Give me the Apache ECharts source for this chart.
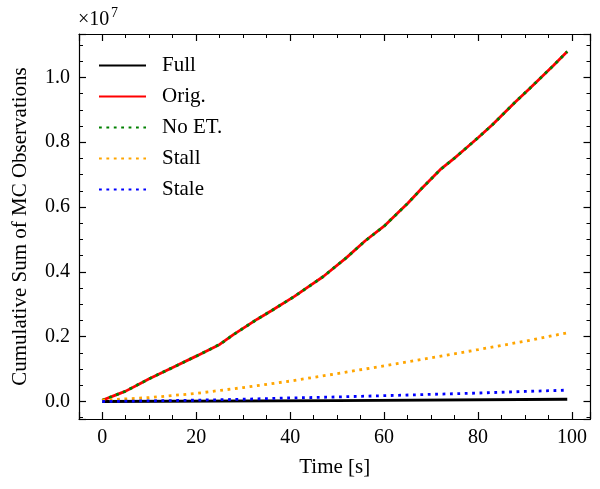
<!DOCTYPE html>
<html>
<head>
<meta charset="utf-8">
<script src="https://cdn.jsdelivr.net/npm/echarts@6/dist/echarts.min.js"></script>
<style>
  html, body { margin: 0; padding: 0; background: #fff; }
  #chart { width: 600px; height: 489px; }
</style>
</head>
<body>
<div id="chart"></div>
<script>
// values are in units of 1e7 observations (axis shows x10^7)
const origT = [0, 2, 5, 8, 10, 15, 20, 25, 28, 33, 36, 41, 44, 47, 52, 56, 60, 63, 65, 68, 72, 75, 77, 80, 83, 88, 91, 96, 99];
const origV = [0.004, 0.015, 0.032, 0.055, 0.07, 0.105, 0.14, 0.176, 0.207, 0.254, 0.28, 0.325, 0.355, 0.385, 0.444, 0.496, 0.541, 0.583, 0.611, 0.657, 0.716, 0.751, 0.776, 0.814, 0.853, 0.925, 0.966, 1.036, 1.08];
const noEtV = [0.004, 0.015, 0.032, 0.055, 0.07, 0.105, 0.14, 0.176, 0.207, 0.254, 0.28, 0.325, 0.355, 0.385, 0.444, 0.496, 0.541, 0.583, 0.611, 0.657, 0.716, 0.751, 0.776, 0.814, 0.853, 0.925, 0.966, 1.036, 1.08];

const stepT = [0, 10, 20, 30, 40, 50, 60, 70, 80, 90, 99];
const stallV = [0.004, 0.012, 0.025, 0.043, 0.063, 0.086, 0.11, 0.135, 0.16, 0.186, 0.212];
const staleV = [0.0, 0.002, 0.004, 0.007, 0.011, 0.014, 0.018, 0.022, 0.026, 0.031, 0.035];

const fullT = [0, 50, 99];
const fullV = [0.0, 0.003, 0.007];

const xTitle = 'Time [s]';
const yTitle = 'Cumulative Sum of MC Observations';

function pairs(t, v) {
  return t.map(function (x, i) { return [x, v[i]]; });
}

const FONT = 'Liberation Serif';
const chart = echarts.init(document.getElementById('chart'));

function axisCommon(show, digits) {
  return {
    axisLine: { show: true, onZero: false, lineStyle: { color: '#000', width: 1.2 } },
    axisTick: { show: true, inside: true, length: 7, lineStyle: { color: '#000', width: 1.2 } },
    minorTick: { show: true, splitNumber: 4, length: 4, lineStyle: { color: '#000', width: 1 } },
    splitLine: { show: false },
    axisLabel: {
      show: show, color: '#000', fontFamily: FONT, fontSize: 20, margin: 9,
      showMinLabel: false, showMaxLabel: false,
      formatter: function (v) { return v.toFixed(digits); }
    }
  };
}

const xMin = -4.95, xMax = 103.95;
const yMin = -0.054, yMax = 1.134;

const dotted = [2.8, 4.6];

const option = {
  animation: false,
  backgroundColor: '#fff',
  grid: { left: 79, right: 9.5, top: 34, bottom: 70, containLabel: false },
  xAxis: [
    Object.assign({
      type: 'value', min: xMin, max: xMax, position: 'bottom',
      name: xTitle, nameLocation: 'middle', nameGap: 38,
      nameTextStyle: { color: '#000', fontFamily: FONT, fontSize: 21 }
    }, axisCommon(true, 0)),
    Object.assign({ type: 'value', min: xMin, max: xMax, position: 'top' }, axisCommon(false, 0))
  ],
  yAxis: [
    Object.assign({
      type: 'value', min: yMin, max: yMax, position: 'left',
      name: yTitle, nameLocation: 'middle', nameGap: 48,
      nameTextStyle: { color: '#000', fontFamily: FONT, fontSize: 21 }
    }, axisCommon(true, 1)),
    Object.assign({ type: 'value', min: yMin, max: yMax, position: 'right' }, axisCommon(false, 1))
  ],
  legend: {
    orient: 'vertical', left: 93, top: 50,
    itemWidth: 47, itemHeight: 12, itemGap: 10,
    itemStyle: { opacity: 0 },
    textStyle: { color: '#000', fontFamily: FONT, fontSize: 21, lineHeight: 21, padding: [0, 0, 0, 11] },
    data: ['Full', 'Orig.', 'No ET.', 'Stall', 'Stale']
  },
  graphic: [
    { type: 'text', left: 78, top: 10, style: { text: '×10', font: '20px "Liberation Serif"', fill: '#000' } },
    { type: 'text', left: 111, top: 6, style: { text: '7', font: '14px "Liberation Serif"', fill: '#000' } }
  ],
  series: [
    { name: 'Full', type: 'line', symbol: 'none', data: pairs(fullT, fullV),
      lineStyle: { color: '#000', width: 2.8 }, itemStyle: { color: '#000' } },
    { name: 'Orig.', type: 'line', symbol: 'none', data: pairs(origT, origV),
      lineStyle: { color: '#ff0000', width: 2.8 }, itemStyle: { color: '#ff0000' } },
    { name: 'No ET.', type: 'line', symbol: 'none', data: pairs(origT, noEtV),
      lineStyle: { color: '#008000', width: 2.8, type: dotted, cap: 'butt' }, itemStyle: { color: '#008000' } },
    { name: 'Stall', type: 'line', symbol: 'none', data: pairs(stepT, stallV),
      lineStyle: { color: '#ffa500', width: 2.8, type: dotted, cap: 'butt' }, itemStyle: { color: '#ffa500' } },
    { name: 'Stale', type: 'line', symbol: 'none', data: pairs(stepT, staleV),
      lineStyle: { color: '#0000ff', width: 2.8, type: dotted, cap: 'butt' }, itemStyle: { color: '#0000ff' } }
  ]
};

chart.setOption(option);
</script>
</body>
</html>
